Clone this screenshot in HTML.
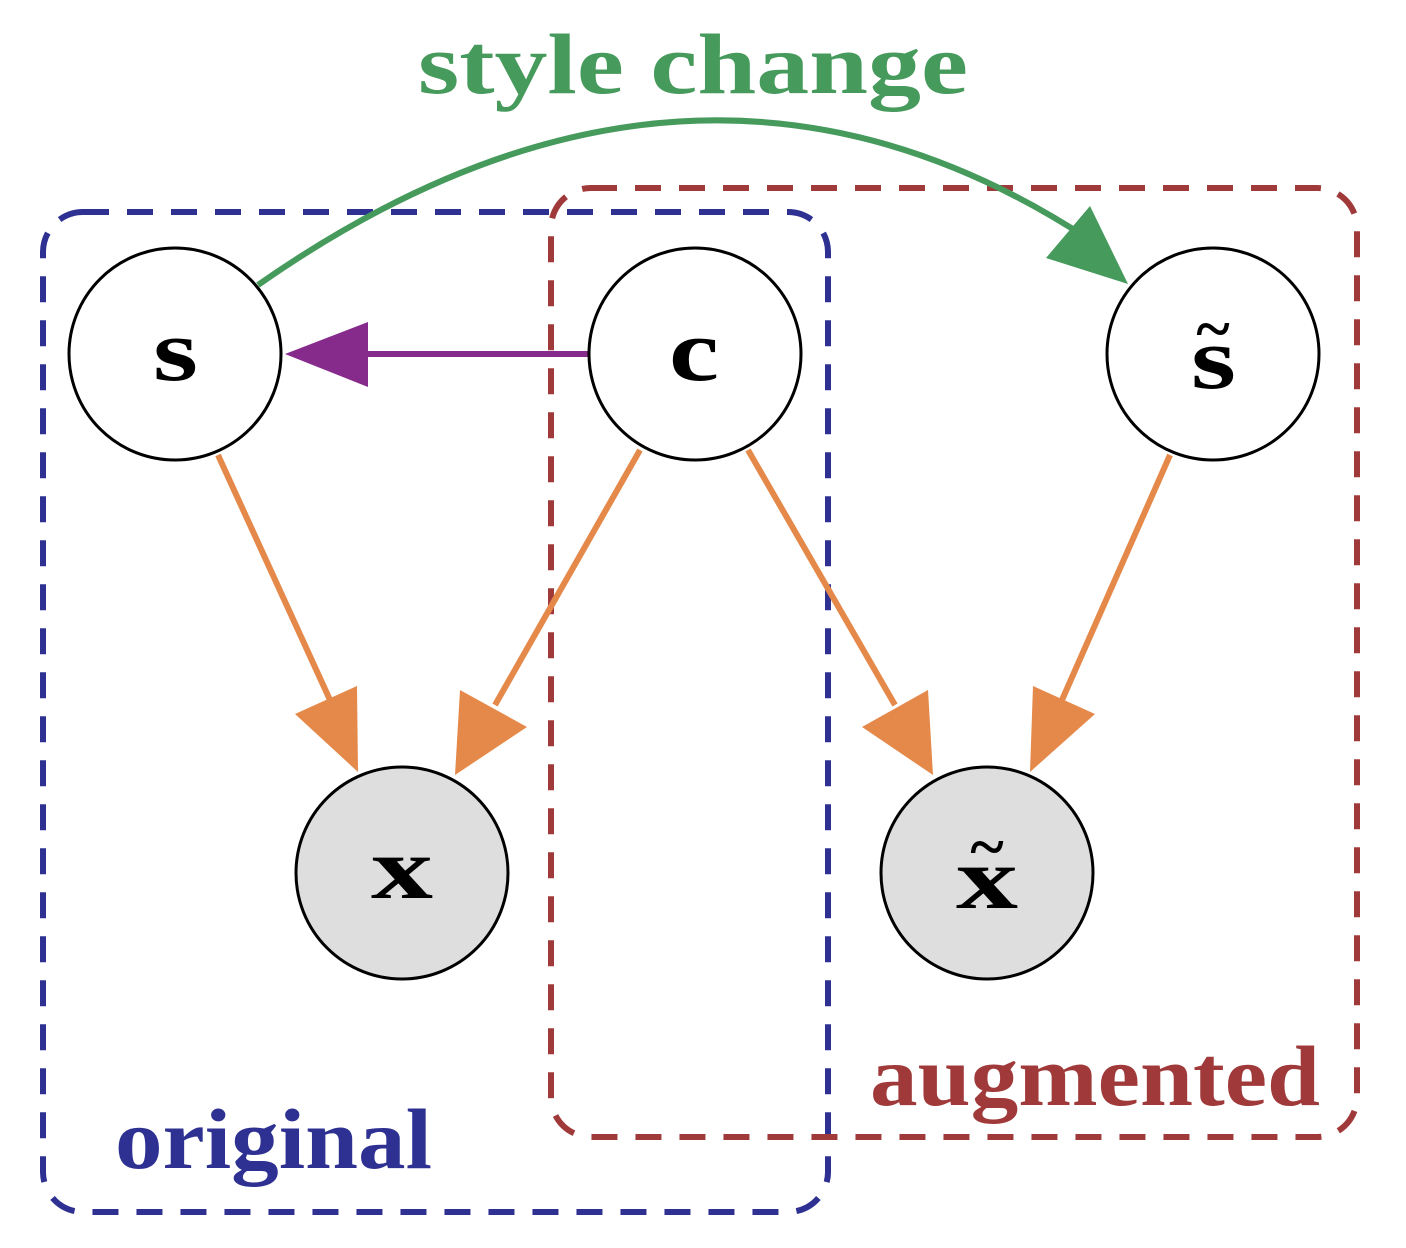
<!DOCTYPE html>
<html><head><meta charset="utf-8"><style>
html,body{margin:0;padding:0;background:#fff;}
svg{display:block;}
text{font-family:"Liberation Serif",serif;font-weight:bold;}
</style></head><body>
<svg width="1406" height="1248" viewBox="0 0 1406 1248" xmlns="http://www.w3.org/2000/svg">
<rect x="43" y="212" width="785" height="1000" rx="40" fill="none" stroke="#2e3192" stroke-width="6" stroke-dasharray="26,18"/>
<rect x="551" y="188" width="806" height="949" rx="40" fill="none" stroke="#a03a3a" stroke-width="6" stroke-dasharray="26,18"/>
<path d="M258,285 Q694,-20 1090,240" fill="none" stroke="#459a5c" stroke-width="6"/>
<polygon points="1128,284 1046,258 1090,206" fill="#459a5c"/>
<line x1="588" y1="354" x2="360" y2="354" stroke="#862a8c" stroke-width="6"/>
<polygon points="285,354 368,322 368,387" fill="#862a8c"/>
<g stroke="#e5894a" stroke-width="6">
<line x1="218" y1="455" x2="330" y2="700"/>
<line x1="640" y1="450" x2="495" y2="705"/>
<line x1="748" y1="450" x2="895" y2="705"/>
<line x1="1170" y1="455" x2="1062" y2="700"/>
</g>
<g fill="#e5894a">
<polygon points="358,772 295,714 357,686"/>
<polygon points="455,775 460,690 527,727"/>
<polygon points="933,775 862,727 928,690"/>
<polygon points="1030,772 1033,686 1095,714"/>
</g>
<g stroke="#000" stroke-width="3">
<circle cx="175" cy="354" r="106" fill="#fff"/>
<circle cx="695" cy="354" r="106" fill="#fff"/>
<circle cx="1213" cy="354" r="106" fill="#fff"/>
<circle cx="402" cy="873" r="106" fill="#dedede"/>
<circle cx="987" cy="873" r="106" fill="#dedede"/>
</g>
<g font-size="88" fill="#000" lengthAdjust="spacingAndGlyphs">
<text x="153" y="380" textLength="45" lengthAdjust="spacingAndGlyphs">s</text>
<text x="669" y="380" textLength="50" lengthAdjust="spacingAndGlyphs">c</text>
<text x="1191" y="388" textLength="45" lengthAdjust="spacingAndGlyphs">s</text>
<text x="1213" y="350" font-size="64" text-anchor="middle">~</text>
<text x="371" y="898" textLength="62" lengthAdjust="spacingAndGlyphs">x</text>
<text x="956" y="908" textLength="62" lengthAdjust="spacingAndGlyphs">x</text>
<text x="987" y="868" font-size="64" text-anchor="middle">~</text>
</g>
<text x="418" y="93" font-size="86" fill="#459a5c" textLength="550" lengthAdjust="spacingAndGlyphs">style change</text>
<text x="115" y="1168" font-size="86" fill="#2e3192" textLength="317" lengthAdjust="spacingAndGlyphs">original</text>
<text x="870" y="1105" font-size="86" fill="#a03a3a" textLength="450" lengthAdjust="spacingAndGlyphs">augmented</text>
</svg>
</body></html>
